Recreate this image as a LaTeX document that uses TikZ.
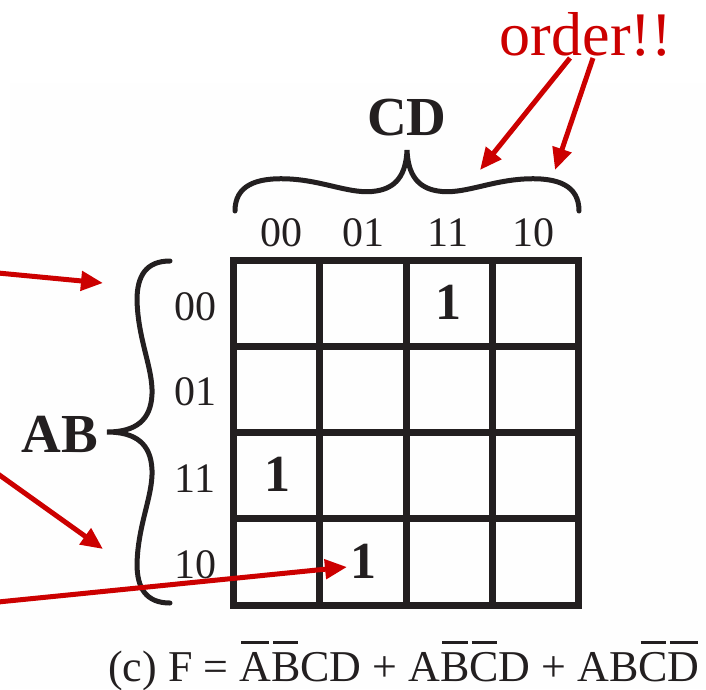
\documentclass[tikz,border=0pt]{standalone}
\usepackage{fontspec}
\setmainfont{Liberation Serif}
\usetikzlibrary{arrows.meta}
\definecolor{arrred}{RGB}{204,0,0}
\definecolor{kblack}{RGB}{35,31,32}
\newcommand{\ob}[1]{\setbox0\hbox{#1}\rlap{\kern2pt\raisebox{37pt}{\rule{\dimexpr\wd0-4pt\relax}{2.6pt}}}\box0}
\tikzset{
  lbl/.style={anchor=base, inner sep=0pt, text=kblack, font=\fontsize{42}{48}\selectfont},
  big/.style={anchor=base, inner sep=0pt, text=kblack, font=\fontsize{55}{60}\selectfont\bfseries},
  one/.style={inner sep=0pt, text=kblack, font=\fontsize{52}{56}\selectfont\bfseries},
  gridline/.style={line width=7pt, draw=kblack},
  brace/.style={line width=5pt, draw=kblack, line cap=round},
  redarrow/.style={line width=5pt, draw=arrred, -{Triangle[length=22pt,width=19pt]}}
}
\begin{document}
\begin{tikzpicture}[x=1pt,y=-1pt]
\useasboundingbox (0,0) rectangle (706,689);
\fill[white] (0,0) rectangle (706,689);
\fill[gray!1] (10,83) rectangle (706,689);
% grid
\draw[gridline] (233.5,260) rectangle (578.5,605);
\foreach \x in {319.75,406,492.25} \draw[gridline] (\x,260) -- (\x,605);
\foreach \y in {346.25,432.5,518.75} \draw[gridline] (233.5,\y) -- (578.5,\y);
% column labels
\node[lbl] (c00) at (281,246) {00};
\node[lbl] (c01) at (363,246) {01};
\node[lbl] (c11) at (448,246) {11};
\node[lbl] (c10) at (533,246) {10};
% row labels
\node[lbl] (r00) at (195,320) {00};
\node[lbl] (r01) at (195,405) {01};
\node[lbl] (r11) at (195,492) {11};
\node[lbl] (r10) at (195,578) {10};
% variable labels
\node[big] (CD) at (407,135) {CD};
\node[big] (AB) at (60,452) {AB};
% ones
\node[one] (o1) at (448,302) {1};
\node[one] (o2) at (277,474) {1};
\node[one] (o3) at (363,561) {1};
% braces
\draw[brace] (235,211) .. controls (235,186) and (255,177) .. (290,179)
  .. controls (325,181) and (352,195) .. (376,191)
  .. controls (396,188) and (406,175) .. (407,150)
  .. controls (408,175) and (418,188) .. (438,191)
  .. controls (462,195) and (489,181) .. (524,179)
  .. controls (559,177) and (579,186) .. (579,211);
\draw[brace] (170,261) .. controls (146,261) and (137,276) .. (137,300)
  .. controls (138,340) and (153,368) .. (152,394)
  .. controls (151,420) and (136,432) .. (107,432)
  .. controls (136,432) and (151,444) .. (152,470)
  .. controls (153,496) and (138,524) .. (137,564)
  .. controls (137,588) and (146,603) .. (170,603);
% formula
\node[anchor=base west, inner sep=0pt, text=kblack, font=\fontsize{44}{50}\selectfont] (F) at (108,681)
  {(c) F = \ob{A}\ob{B}CD + A\ob{B}\ob{C}D + AB\ob{C}\ob{D}};
% order annotation
\node[anchor=base, inner sep=0pt, text=arrred, font=\fontsize{62}{66}\selectfont] (order) at (586,55) {order!!};
\coordinate (os1) at (570,58);
\coordinate (os2) at (593,58);
\coordinate (ot1) at (480,170);
\coordinate (ot2) at (555,170);
\draw[redarrow] (os1) -- (ot1);
\draw[redarrow] (os2) -- (ot2);
% left arrows
\coordinate (ls1) at (-2,273);
\coordinate (lt1) at (103,283);
\coordinate (ls2) at (-2,474);
\coordinate (lt2) at (103,549);
\coordinate (ls3) at (-2,602);
\coordinate (lt3) at (347,567);
\draw[redarrow] (ls1) -- (lt1);
\draw[redarrow] (ls2) -- (lt2);
\draw[redarrow] (ls3) -- (lt3);
\end{tikzpicture}
\end{document}
